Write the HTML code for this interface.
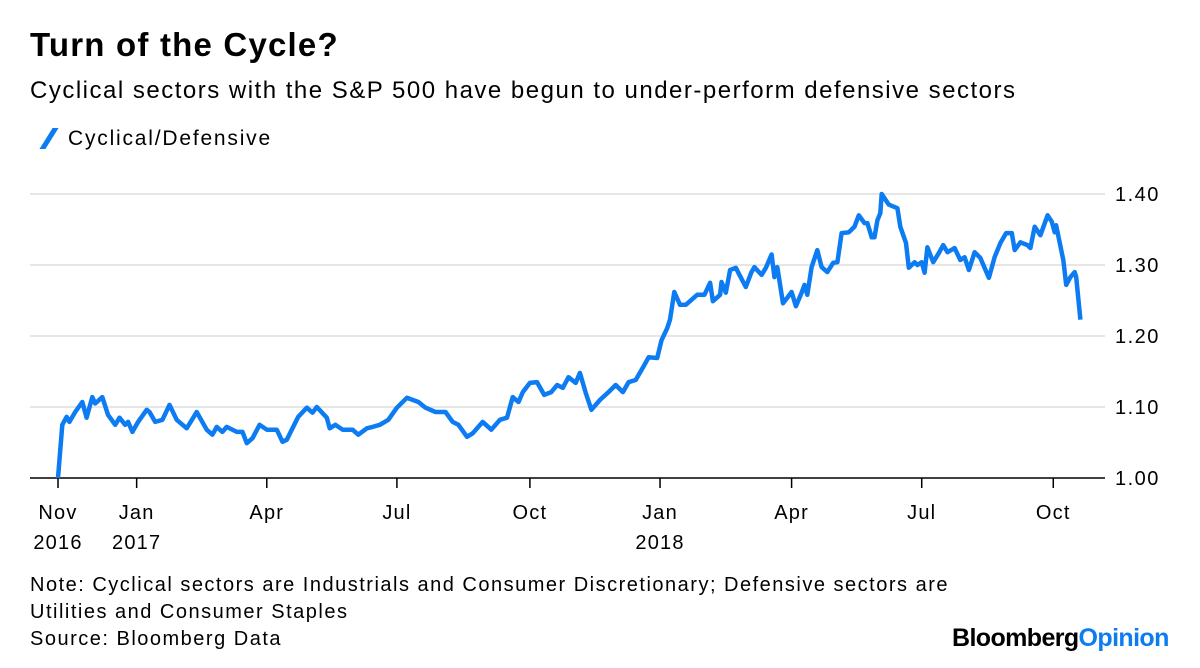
<!DOCTYPE html>
<html><head><meta charset="utf-8"><style>
body{margin:0;background:#fff;width:1200px;height:668px;overflow:hidden;font-family:"Liberation Sans",sans-serif;color:#000}
.t{position:absolute;white-space:nowrap}
</style></head><body>
<div class="t" style="left:30px;top:26px;font-size:33px;font-weight:bold;letter-spacing:1.2px;">Turn of the Cycle?</div>
<div class="t" style="left:30px;top:77px;font-size:24px;letter-spacing:1.5px;">Cyclical sectors with the S&amp;P 500 have begun to under-perform defensive sectors</div>
<div class="t" style="left:46px;top:127px;font-size:21px;letter-spacing:1.8px;"><span style="display:inline-block;width:6px;height:21px;background:#0d7cf2;transform:skewX(-32deg);margin-right:16px;vertical-align:-4px"></span>Cyclical/Defensive</div>
<svg id="chart" width="1200" height="668" style="position:absolute;left:0;top:0"></svg>
<div class="t" style="left:30px;top:572px;font-size:20px;line-height:27px;letter-spacing:1.5px;">Note: Cyclical sectors are Industrials and Consumer Discretionary; Defensive sectors are<br>Utilities and Consumer Staples<br>Source: Bloomberg Data</div>
<div class="t" style="left:952px;top:624px;font-size:25px;font-weight:bold;letter-spacing:-0.6px;">Bloomberg<span style="color:#0d7cf2">Opinion</span></div>
<script>
const days=[0,3,6,8,12,17,20,24,26,31,35,40,43,47,49,52,56,62,64,68,73,78,83,90,97,104,108,111,115,118,125,129,132,136,141,146,153,157,160,164,168,174,178,181,188,190,194,199,206,210,216,220,225,231,237,244,252,257,264,271,276,280,286,290,297,303,309,314,318,322,325,330,335,340,345,349,353,357,362,365,369,373,379,385,390,395,399,404,410,413,419,422,426,428,431,435,439,443,447,452,456,458,463,464,467,470,474,481,485,487,492,495,499,501,503,507,510,513,516,520,522,524,527,531,534,538,542,545,548,553,557,560,564,566,569,571,573,575,576,581,587,589,593,595,599,601,604,606,608,612,616,619,622,627,631,634,637,641,645,651,655,659,663,667,669,673,678,680,683,687,692,695,697,698,703,705,708,711,712,715];
const values=[1.000,1.075,1.086,1.079,1.093,1.107,1.085,1.114,1.105,1.114,1.089,1.075,1.085,1.075,1.079,1.065,1.079,1.096,1.093,1.079,1.082,1.103,1.082,1.070,1.093,1.068,1.061,1.072,1.065,1.072,1.065,1.065,1.049,1.056,1.075,1.068,1.068,1.051,1.054,1.070,1.086,1.099,1.092,1.100,1.085,1.070,1.075,1.068,1.068,1.061,1.070,1.072,1.075,1.082,1.099,1.113,1.107,1.099,1.093,1.093,1.079,1.075,1.058,1.063,1.079,1.068,1.082,1.085,1.114,1.107,1.121,1.134,1.135,1.117,1.121,1.131,1.127,1.142,1.134,1.148,1.120,1.096,1.110,1.121,1.131,1.121,1.135,1.138,1.159,1.170,1.169,1.194,1.211,1.223,1.262,1.244,1.244,1.251,1.258,1.258,1.275,1.249,1.258,1.276,1.261,1.293,1.296,1.269,1.290,1.297,1.286,1.296,1.315,1.283,1.297,1.246,1.254,1.262,1.242,1.261,1.272,1.258,1.297,1.321,1.297,1.290,1.303,1.304,1.345,1.346,1.354,1.370,1.359,1.359,1.339,1.339,1.363,1.373,1.400,1.385,1.380,1.354,1.331,1.296,1.304,1.300,1.304,1.289,1.325,1.304,1.317,1.328,1.318,1.324,1.307,1.311,1.293,1.318,1.310,1.282,1.311,1.331,1.345,1.345,1.321,1.332,1.328,1.324,1.354,1.342,1.370,1.361,1.346,1.356,1.307,1.272,1.283,1.290,1.283,1.223];
const yTicks=[1.00,1.10,1.20,1.30,1.40];
const yTickLabels=["1.00","1.10","1.20","1.30","1.40"];
const xTickDays=[0,55,146,237,330,421,513,604,696];
const xTickLabels=[["Nov","2016"],["Jan","2017"],["Apr",""],["Jul",""],["Oct",""],["Jan","2018"],["Apr",""],["Jul",""],["Oct",""]];

const NS="http://www.w3.org/2000/svg";
const svg=document.getElementById('chart');
const xs=d=>58+d*1.43;
const ys=v=>478-(v-1)*710;
function mk(t,a){const e=document.createElementNS(NS,t);for(const k in a)e.setAttribute(k,a[k]);svg.appendChild(e);return e;}
yTicks.forEach((v,i)=>{
  if(i>0){const g=mk('line',{x1:30,x2:1105,y1:ys(v),y2:ys(v),stroke:'#e6e6e6','stroke-width':2});
  
  }
  const t=mk('text',{x:1115,y:ys(v)+7,'font-size':20,'letter-spacing':1.5,'font-family':'Liberation Sans, sans-serif'});
  t.textContent=yTickLabels[i];
  
  
});
const base=mk('line',{x1:30,x2:1105,y1:478,y2:478,stroke:'#000','stroke-width':1.5});


xTickDays.forEach((d,i)=>{
  const tk=mk('line',{x1:xs(d),x2:xs(d),y1:478,y2:488,stroke:'#000','stroke-width':1.5});
  
  
  xTickLabels[i].forEach((s,j)=>{
    if(!s)return;
    const t=mk('text',{x:xs(d),y:519+j*30,'font-size':20,'letter-spacing':1.2,'text-anchor':'middle','font-family':'Liberation Sans, sans-serif'});
    t.textContent=s;
    
    
  });
});
const p=mk('path',{d:days.map((d,i)=>(i?'L':'M')+xs(d).toFixed(1)+','+ys(values[i]).toFixed(1)).join(''),fill:'none',stroke:'#0d7cf2','stroke-width':4.5,'stroke-linejoin':'round'});


</script>
</body></html>
